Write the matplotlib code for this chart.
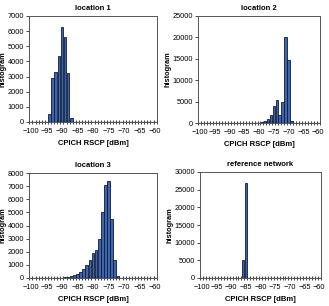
import numpy as np
import matplotlib
matplotlib.use('Agg')
import matplotlib.pyplot as plt

plt.rcParams['font.family'] = ['Liberation Sans', 'DejaVu Sans']

# CPICH RSCP bins (dBm), one category per dB
rscp = np.arange(-100, -59)

# counts per bin, only the non-zero bins listed
loc1 = {-94: 500, -93: 2900, -92: 3300, -91: 4340, -90: 6300, -89: 5640, -88: 3240, -87: 240}
loc2 = {-81: 50, -80: 100, -79: 200, -78: 450, -77: 900, -76: 1850, -75: 4000, -74: 5400,
        -73: 1900, -72: 4900, -71: 20100, -70: 14700, -69: 400}
loc3 = {-89: 40, -88: 80, -87: 120, -86: 200, -85: 320, -84: 470, -83: 660, -82: 970,
        -81: 1400, -80: 1900, -79: 2100, -78: 3000, -77: 5000, -76: 7080, -75: 7360,
        -74: 4500, -73: 1350, -72: 150}
ref_net = {-86: 5000, -85: 27000}

titles = ['location 1', 'location 2', 'location 3', 'reference network']
series = [loc1, loc2, loc3, ref_net]
ymax = [7000, 25000, 8000, 30000]
ystep = [1000, 5000, 1000, 5000]

# axes rectangles in pixels (left, top, right, bottom)
W, H = 329, 306
boxes = [(29, 16, 157, 122), (198, 16, 320, 123), (29, 173, 157, 278), (200, 172, 321, 278)]

fig = plt.figure(figsize=(W / 100, H / 100), dpi=100)

for i in range(4):
    l, t, r, b = boxes[i]
    ax = fig.add_axes([l / W, 1 - b / H, (r - l) / W, (b - t) / H])
    counts = [series[i].get(int(x), 0) for x in rscp]
    ax.bar(rscp, counts, width=0.85, color='#3d66ad', edgecolor='#0d1a3a', linewidth=0.6, zorder=2)
    ax.set_xlim(-100.6, -59.4)
    ax.set_ylim(0, ymax[i])
    ax.set_yticks(np.arange(0, ymax[i] + 1, ystep[i]))
    ax.set_xticks(np.arange(-100, -59, 5))
    ax.set_xticks(np.arange(-100.5, -59, 1), minor=True)
    ax.tick_params(axis='both', which='major', labelsize=5.3, length=2, width=0.5, pad=1.5)
    ax.tick_params(axis='x', which='major', length=0, pad=4)
    ax.tick_params(axis='x', which='minor', direction='inout', length=3, width=0.6, color='#222222')
    ax.axhline(0, color='#222222', linewidth=0.9, zorder=3)
    for s in ax.spines.values():
        s.set_color('#555555')
        s.set_linewidth(0.7)
    ax.set_title(titles[i], fontsize=5.5, fontweight='bold', pad=4)
    ax.set_xlabel('CPICH RSCP [dBm]', fontsize=5.5, fontweight='bold', labelpad=4)
    ax.set_ylabel('histogram', fontsize=5.3, fontweight='bold', labelpad=0.5)

fig.savefig('out.png', dpi=100)
